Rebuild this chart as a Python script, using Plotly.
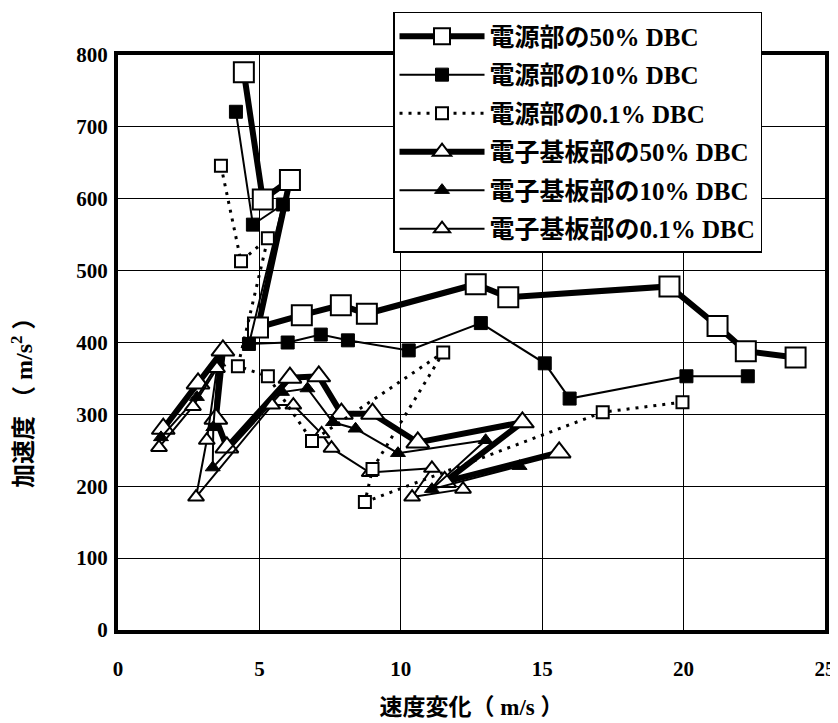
import plotly.graph_objects as go

# ---- data ----
names = ["電源部の50% DBC", "電源部の10% DBC", "電源部の0.1% DBC",
         "電子基板部の50% DBC", "電子基板部の10% DBC", "電子基板部の0.1% DBC"]

s50_x = [4.45, 5.12, 6.08, 4.95, 6.5, 7.88, 8.8, 12.65, 13.8, 19.5, 21.2, 22.2, 23.96]
s50_y = [776, 599, 626, 421, 438, 452, 440, 481, 463, 478, 423, 388, 379]

s10_x = [4.17, 4.77, 5.83, 4.63, 6.0, 7.17, 8.13, 10.28, 12.83, 15.09, 15.97, 20.1, 22.27]
s10_y = [721, 564, 592, 398, 400, 411, 403, 389, 427, 371, 322, 353, 353]

s01_x = [3.64, 4.35, 5.3, 4.24, 5.3, 6.86, 11.5, 9.0, 8.73, 17.14, 19.96]
s01_y = [646, 513, 545, 367, 353, 263, 386, 224, 178, 303, 317]

t50_x = [1.6, 2.83, 3.71, 3.46, 3.85, 6.08, 7.1, 7.9, 9.0, 10.6, 14.3, 11.55, 15.6]
t50_y = [280, 343, 389, 294, 254, 351, 353, 301, 301, 261, 289, 206, 247]

t10_x = [1.52, 2.79, 3.55, 3.37, 3.35, 5.8, 6.7, 7.6, 8.4, 9.9, 13.0, 11.1, 14.2]
t10_y = [268, 324, 372, 282, 226, 331, 336, 289, 280, 246, 264, 196, 228]

t01_x = [1.45, 2.65, 3.5, 3.14, 2.76, 5.45, 6.2, 7.2, 7.55, 8.9, 11.1, 10.4, 12.2]
t01_y = [254, 311, 364, 264, 185, 313, 313, 273, 253, 219, 225, 185, 196]

x_ticks = [0, 5, 10, 15, 20, 25]
y_ticks = [0, 100, 200, 300, 400, 500, 600, 700, 800]

x_title = "速度変化（ m/s ）"
y_title = "加速度 （ m/s<sup>2</sup> ）"

FONT = "Liberation Serif, Noto Sans CJK JP, serif"

series = [
    (t50_x, t50_y, names[3], dict(width=6, dash="solid"), dict(symbol="triangle-up", size=20, color="white", line=dict(color="black", width=2))),
    (t10_x, t10_y, names[4], dict(width=2, dash="solid"), dict(symbol="triangle-up", size=13, color="black", line=dict(color="black", width=1))),
    (t01_x, t01_y, names[5], dict(width=2, dash="solid"), dict(symbol="triangle-up", size=14, color="white", line=dict(color="black", width=2))),
    (s50_x, s50_y, names[0], dict(width=6, dash="solid"), dict(symbol="square", size=20, color="white", line=dict(color="black", width=2))),
    (s10_x, s10_y, names[1], dict(width=2, dash="solid"), dict(symbol="square", size=13, color="black", line=dict(color="black", width=1))),
    (s01_x, s01_y, names[2], dict(width=3, dash="3px,6px"), dict(symbol="square", size=12, color="white", line=dict(color="black", width=2))),
]
rank = {names[0]: 1, names[1]: 2, names[2]: 3, names[3]: 4, names[4]: 5, names[5]: 6}

fig = go.Figure()
for xs, ys, nm, ln, mk in series:
    fig.add_trace(go.Scatter(
        x=xs, y=ys, name=nm, mode="lines+markers",
        line=dict(color="black", **ln), marker=mk,
        legendrank=rank[nm], legendgroup=nm, cliponaxis=False,
    ))

# page body has an 8px default margin, so the figure is 830x715
fig.update_layout(
    width=830, height=715,
    margin=dict(l=110, r=13, t=47, b=93, autoexpand=False),
    paper_bgcolor="white", plot_bgcolor="white",
    font=dict(family=FONT, size=20, color="black"),
    showlegend=True,
    legend=dict(
        x=0.389, y=1.075, xanchor="left", yanchor="top",
        bgcolor="white", bordercolor="black", borderwidth=1.5,
        font=dict(family=FONT, size=25, color="black", weight="bold"),
        itemwidth=85, tracegroupgap=3, traceorder="grouped",
    ),
    xaxis=dict(
        range=[0, 25], tickvals=x_ticks, ticktext=[str(v) for v in x_ticks],
        showgrid=True, gridcolor="black", gridwidth=1,
        showline=True, linecolor="black", linewidth=4, mirror=True,
        ticks="", zeroline=False, ticklabelstandoff=17, automargin=False,
        tickfont=dict(family=FONT, size=21, weight="bold"),
        title=dict(text=x_title, standoff=20,
                   font=dict(family=FONT, size=23, weight="bold")),
    ),
    yaxis=dict(
        range=[0, 800], tickvals=y_ticks, ticktext=[str(v) for v in y_ticks],
        showgrid=True, gridcolor="black", gridwidth=1,
        showline=True, linecolor="black", linewidth=4, mirror=True,
        ticks="", zeroline=False, ticklabelstandoff=2, automargin=False,
        tickfont=dict(family=FONT, size=21, weight="bold"),
    ),
    annotations=[dict(
        text=y_title, textangle=-90, showarrow=False,
        xref="paper", yref="paper", x=-0.136, y=0.405,
        xanchor="center", yanchor="middle",
        font=dict(family=FONT, size=24, weight="bold"),
    )],
)

fig.write_html("out.html")
